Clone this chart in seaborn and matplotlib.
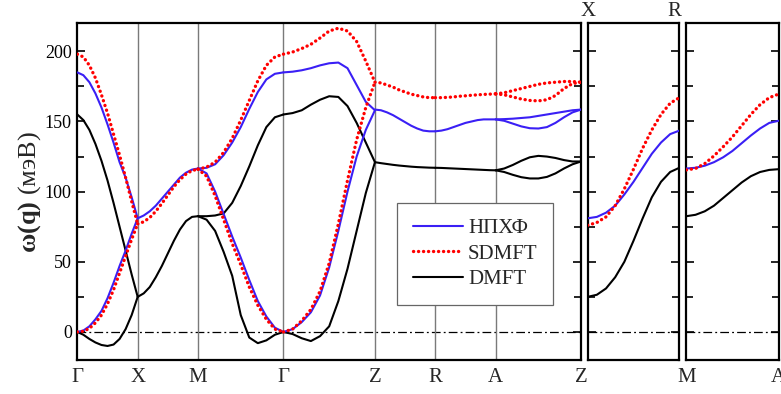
import numpy as np
import pandas as pd
import matplotlib
matplotlib.use("Agg")
import matplotlib.pyplot as plt
from matplotlib.ticker import MultipleLocator
from matplotlib.lines import Line2D
import seaborn as sns

# ---------------- data (meV), sampled at t = 0, 0.1, ..., 1 along each segment ----------------
path_labels = ["Γ", "X", "M", "Γ", "Z", "R", "A", "Z"]
seg_lengths = [1.0, 1.0, np.sqrt(2), 1.516, 1.0, 1.0, np.sqrt(2)]
methods = ["НПХФ", "SDMFT", "DMFT"]

# НПХФ
hf_GX_up = [185, 183, 178, 170, 160, 148, 135, 121, 110, 96, 81]
hf_GX_lo = [0, 1, 4, 9, 15, 24, 35, 47, 58, 70, 81]
hf_XM = [81, 83, 86, 90, 95, 100, 105, 110, 113.5, 115.7, 116.5]
hf_MG_up = [116.5, 117, 119.5, 126, 135, 146, 159, 171, 180, 184, 185]
hf_MG_lo = [116.5, 113, 100, 84, 68, 53, 37, 22, 11, 3, 0]
hf_GZ_up = [185, 185.5, 186.5, 188, 190, 191.5, 192, 188, 176, 164, 158]
hf_GZ_lo = [0, 2, 7, 14, 26, 46, 72, 100, 125, 144, 158]
hf_ZR = [158.5, 158, 156.5, 154.5, 152, 149.5, 147, 145, 143.5, 143, 143]
hf_RA = [143, 143.5, 144.5, 146, 147.5, 149, 150, 151, 151.5, 151.5, 151.5]
hf_AZ_up = [151.5, 151.7, 152, 152.5, 153, 154, 155, 156, 157, 158, 158.5]
hf_AZ_lo = [151.5, 150.5, 148.5, 146.5, 145.2, 145, 146, 149, 153, 156.5, 158.5]
hf_XR = [81, 82, 85, 90, 98, 107, 117, 127, 135, 141, 143.5]
hf_MA = [116.5, 117, 118.5, 121, 124.5, 129, 134.5, 140, 145, 149, 150.5]

# SDMFT
sd_GX_up = [198, 196, 190, 181, 169, 156, 141, 126, 110, 93, 77]
sd_GX_lo = [0, 0.5, 2.5, 6.5, 12, 20, 30, 42, 54, 66, 77]
sd_XM = [77, 78.5, 81.5, 86, 91.5, 97.5, 103.5, 108.5, 112.5, 115, 116]
sd_MG_up = [116, 117.5, 121, 128, 138, 151, 165, 179, 190, 196, 198]
sd_MG_lo = [116, 111, 97, 80, 63, 48, 32, 19, 9, 2, 0]
sd_GZ_up = [198, 199.5, 202, 205, 209.5, 214.5, 216.5, 214.5, 207, 193, 178]
sd_GZ_lo = [0, 2, 8, 16, 29, 49, 77, 108, 137, 160, 178]
sd_ZR = [178, 177.5, 176, 174.5, 172.5, 171, 169.5, 168.5, 167.5, 167, 167]
sd_RA = [167, 167, 167.2, 167.5, 168, 168.3, 168.7, 169, 169.3, 169.5, 169.7]
sd_AZ_up = [169.7, 170.5, 172, 173.5, 175, 176.5, 177.5, 178, 178.5, 178.5, 178]
sd_AZ_lo = [169.7, 169, 167.5, 166, 165, 164.7, 165.5, 168.5, 173.5, 177, 178]
sd_XR = [76, 78, 82, 90, 102, 116, 131, 144, 155, 163, 167]
sd_MA = [115.5, 116.5, 120, 125.5, 132, 139, 147, 155, 162, 167, 169.5]

# DMFT
dm_GX_up = [155, 151, 144, 134, 122, 108, 92, 75, 58, 41, 25]
dm_GX_lo = [0, -2, -5, -7.5, -9.3, -10, -9, -5, 2, 12, 25]
dm_XM = [25, 27.5, 32, 39, 47, 56, 65, 73, 79, 82, 82.5]
dm_MG_up = [82.5, 82.5, 83, 84.5, 92, 104, 118, 133, 146, 153, 155]
dm_MG_lo = [82.5, 80, 72, 57, 40, 12, -4, -8, -6, -2, 0]
dm_GZ_up = [155, 156, 158, 162, 165.5, 168, 167.5, 161, 149, 135, 121]
dm_GZ_lo = [0, -1.5, -4.5, -6.5, -3, 4, 22, 45, 72, 99, 121]
dm_ZR = [121, 120.3, 119.7, 119.1, 118.6, 118.2, 117.8, 117.5, 117.3, 117.1, 117]
dm_RA = [117, 116.9, 116.7, 116.5, 116.3, 116.1, 115.9, 115.7, 115.5, 115.3, 115.2]
dm_AZ_up = [115.2, 116.5, 119, 122, 124.5, 125.5, 125, 124, 122.5, 121.5, 121.5]
dm_AZ_lo = [115.2, 114, 112, 110.3, 109.4, 109.4, 110.5, 113, 116.5, 119.5, 121.5]
dm_XR = [25, 26.5, 31, 39, 50, 65, 81, 96, 107, 114, 117]
dm_MA = [82.5, 83.5, 86, 90, 95.5, 101, 106.5, 111, 114, 115.5, 116]

t_frac = np.linspace(0, 1, 11)

main_curves = {
    "НПХФ": [(0, hf_GX_up), (0, hf_GX_lo), (1, hf_XM), (2, hf_MG_up), (2, hf_MG_lo),
             (3, hf_GZ_up), (3, hf_GZ_lo), (4, hf_ZR), (5, hf_RA), (6, hf_AZ_up), (6, hf_AZ_lo)],
    "SDMFT": [(0, sd_GX_up), (0, sd_GX_lo), (1, sd_XM), (2, sd_MG_up), (2, sd_MG_lo),
              (3, sd_GZ_up), (3, sd_GZ_lo), (4, sd_ZR), (5, sd_RA), (6, sd_AZ_up), (6, sd_AZ_lo)],
    "DMFT": [(0, dm_GX_up), (0, dm_GX_lo), (1, dm_XM), (2, dm_MG_up), (2, dm_MG_lo),
             (3, dm_GZ_up), (3, dm_GZ_lo), (4, dm_ZR), (5, dm_RA), (6, dm_AZ_up), (6, dm_AZ_lo)],
}
side_curves = {
    "XR": {"НПХФ": hf_XR, "SDMFT": sd_XR, "DMFT": dm_XR},
    "MA": {"НПХФ": hf_MA, "SDMFT": sd_MA, "DMFT": dm_MA},
}

# ---------------- build long table ----------------
seg_start = np.concatenate([[0], np.cumsum(seg_lengths)])
rows = []
for m, curves in main_curves.items():
    for cid, (si, vals) in enumerate(curves):
        for tt, v in zip(t_frac, vals):
            rows.append(("main", m, cid, seg_start[si] + tt * seg_lengths[si], v))
for pname, d in side_curves.items():
    for m, vals in d.items():
        for tt, v in zip(t_frac, vals):
            rows.append((pname, m, 0, tt, v))
df = pd.DataFrame(rows, columns=["panel", "method", "curve", "k", "omega"])

# ---------------- style ----------------
sns.set_theme(style="ticks")
plt.rcParams["font.family"] = ["Liberation Serif", "DejaVu Serif"]
plt.rcParams["mathtext.fontset"] = "custom"
plt.rcParams["mathtext.rm"] = "Liberation Serif"
plt.rcParams["mathtext.bf"] = "Liberation Serif:bold"

styles = {
    "НПХФ": dict(color="#3a1ff5", lw=1.5, linestyle="-", solid_joinstyle="round"),
    "SDMFT": dict(color="#ff0000", lw=2.4, linestyle=(0, (0.05, 1.45)), dash_capstyle="round"),
    "DMFT": dict(color="#000000", lw=1.5, linestyle="-", solid_joinstyle="round"),
}
draw_order = ["DMFT", "НПХФ", "SDMFT"]

fig = plt.figure(figsize=(7.81, 3.94), dpi=100)
ax = fig.add_axes([0.099, 0.0863, 0.645, 0.8546])
ax2 = fig.add_axes([0.7525, 0.0863, 0.1173, 0.8546])
ax3 = fig.add_axes([0.8788, 0.0863, 0.118, 0.8546])

zero_ls = (0, (7, 2.5, 1.5, 2.5))
for a in (ax, ax2, ax3):
    a.axhline(0, color="black", lw=0.9, ls=zero_ls, zorder=1)

for xv in seg_start[1:-1]:
    ax.axvline(xv, color="#7a7a7a", lw=1.0, zorder=1)

for m in draw_order:
    sub = df[(df.panel == "main") & (df.method == m)]
    for cid, g in sub.groupby("curve"):
        sns.lineplot(data=g, x="k", y="omega", ax=ax, estimator=None, sort=False,
                     legend=False, zorder=3, **styles[m])
    for a, pname in ((ax2, "XR"), (ax3, "MA")):
        g = df[(df.panel == pname) & (df.method == m)]
        sns.lineplot(data=g, x="k", y="omega", ax=a, estimator=None, sort=False,
                     legend=False, zorder=3, **styles[m])

for a in (ax, ax2, ax3):
    a.set_ylim(-20, 220)
    a.yaxis.set_major_locator(MultipleLocator(50))
    a.yaxis.set_minor_locator(MultipleLocator(25))
    a.tick_params(axis="y", which="both", direction="in", left=True, right=True,
                  width=1.2, colors="black")
    a.tick_params(axis="y", which="major", length=6)
    a.tick_params(axis="y", which="minor", length=5)
    a.tick_params(axis="x", length=0, pad=6)
    for s in a.spines.values():
        s.set_linewidth(1.6)
        s.set_color("black")
    a.set_xlabel("")
    a.set_ylabel("")

ax.set_xlim(seg_start[0], seg_start[-1])
ax.set_xticks(seg_start)
ax.set_xticklabels(path_labels, fontsize=15)
ax.tick_params(axis="y", labelsize=13, pad=4)
ax.set_ylabel(r"$\mathbf{ω(q)}$ (мэВ)", fontsize=19, labelpad=1)

for a in (ax2, ax3):
    a.set_xlim(0, 1)
    a.tick_params(axis="y", labelleft=False)
ax2.set_xticks([])
ax3.set_xticks([0, 1])
ax3.set_xticklabels(["M", "A"], fontsize=15)
ax2.text(0.0, 1.008, "X", transform=ax2.transAxes, ha="center", va="bottom", fontsize=15)
ax2.text(0.94, 1.008, "R", transform=ax2.transAxes, ha="center", va="bottom", fontsize=15)

handles = [Line2D([], [], **styles[m]) for m in methods]
leg = ax.legend(handles, methods, loc="lower left", bbox_to_anchor=(0.635, 0.163),
                frameon=True, fancybox=False, framealpha=1, fontsize=15,
                handlelength=2.4, handletextpad=0.25, borderpad=0.75, labelspacing=0.3,
                borderaxespad=0)
leg.get_frame().set_edgecolor("#666666")
leg.get_frame().set_linewidth(0.9)

fig.savefig("out.png", dpi=100)
